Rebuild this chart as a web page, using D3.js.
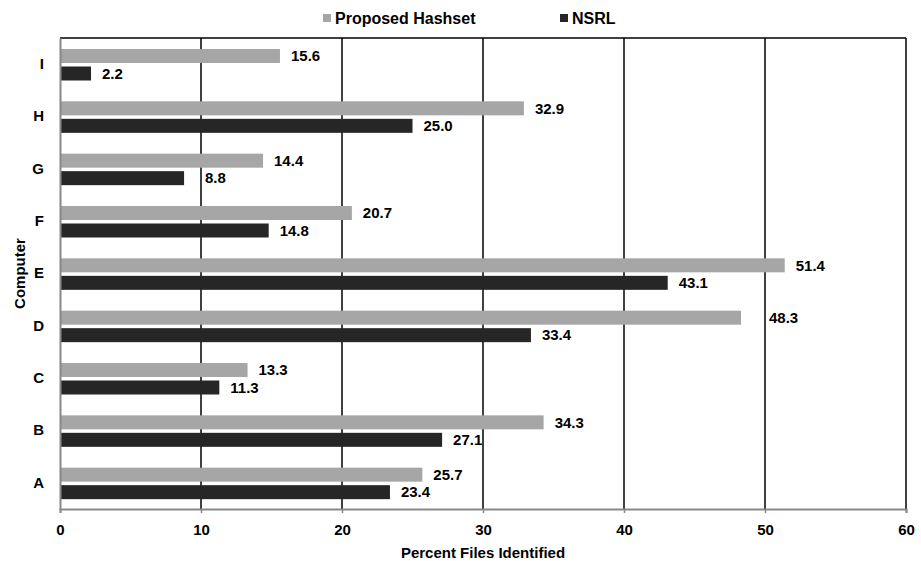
<!DOCTYPE html>
<html>
<head>
<meta charset="utf-8">
<script src="https://cdn.jsdelivr.net/npm/d3@7"></script>
<style>
  body { margin: 0; background: #fff; }
  text { font-family: "Liberation Sans", Arial, sans-serif; font-weight: bold; }
</style>
</head>
<body>
<div id="chart"></div>
<script>
// donnees
var computers = ["A", "B", "C", "D", "E", "F", "G", "H", "I"];
var proposed = [25.7, 34.3, 13.3, 48.3, 51.4, 20.7, 14.4, 32.9, 15.6];
var nsrl = [23.4, 27.1, 11.3, 33.4, 43.1, 14.8, 8.8, 25.0, 2.2];
var seriesNames = ["Proposed Hashset", "NSRL"];
var seriesColors = ["#a6a6a6", "#262626"];
var xTicks = [0, 10, 20, 30, 40, 50, 60];

var W = 921, H = 561;
var margin = { top: 38, right: 15, bottom: 52, left: 60 };
var width = W - margin.left - margin.right,
  height = H - margin.top - margin.bottom;
var fs = 15;

var svg = d3.select("#chart").append("svg")
  .attr("width", W).attr("height", H);

var g = svg.append("g")
  .attr("transform", "translate(" + margin.left + "," + margin.top + ")");

var x = d3.scaleLinear().domain([0, 60]).range([0, width]);

// I en haut, A en bas
var y = d3.scaleBand().domain(computers.slice().reverse()).range([0, height]);

var y1 = d3.scaleBand().domain(seriesNames).range([11, 42.5]).paddingInner(0.2);

// gridlines verticales
g.selectAll(".grid")
  .data(xTicks.slice(1))
  .enter().append("line")
  .attr("x1", d => x(d)).attr("x2", d => x(d))
  .attr("y1", 0).attr("y2", height)
  .attr("stroke", "#000").attr("stroke-width", 1.5);

// bord du haut
g.append("line")
  .attr("x1", 0).attr("x2", width).attr("y1", 0).attr("y2", 0)
  .attr("stroke", "#000").attr("stroke-width", 1.5);

var rows = computers.map((c, i) => ({ c: c, vals: [proposed[i], nsrl[i]] }));

var grp = g.selectAll(".row").data(rows).enter().append("g")
  .attr("transform", d => "translate(0," + y(d.c) + ")");

grp.selectAll("rect")
  .data(d => d.vals.map((v, j) => ({ v: v, s: seriesNames[j], j: j })))
  .enter().append("rect")
  .attr("x", 0)
  .attr("y", d => y1(d.s))
  .attr("width", d => x(d.v))
  .attr("height", y1.bandwidth())
  .attr("fill", d => seriesColors[d.j]);

// position de l'etiquette : on la pousse apres la gridline si elle la croise
function labelX(v) {
  var x0 = x(v) + 11, w = 32;
  xTicks.slice(1).forEach(function (t) {
    var gx = x(t);
    if (gx > x0 + 2 && gx < x0 + w - 4) x0 = gx + 4;
  });
  return x0;
}

grp.selectAll(".lab")
  .data(d => d.vals.map((v, j) => ({ v: v, s: seriesNames[j] })))
  .enter().append("text")
  .attr("x", d => labelX(d.v))
  .attr("y", d => y1(d.s) + y1.bandwidth() / 2)
  .attr("dy", "0.35em")
  .attr("font-size", fs)
  .attr("fill", "#000")
  .text(d => d.v.toFixed(1));

// axe x
var xAxis = g.append("g")
  .attr("transform", "translate(0," + height + ")")
  .call(d3.axisBottom(x).tickValues(xTicks).tickSize(4).tickPadding(11));
xAxis.select(".domain").attr("stroke", "#888").attr("stroke-width", 2);
xAxis.selectAll(".tick line").attr("stroke", "#888").attr("stroke-width", 1.5);
xAxis.selectAll("text").attr("font-size", fs).attr("fill", "#000")
  .style("font-family", "Liberation Sans, Arial, sans-serif").style("font-weight", "bold");

// axe y
var yAxis = g.append("g")
  .call(d3.axisLeft(y).tickSize(0).tickPadding(16));
yAxis.select(".domain").attr("stroke", "#888").attr("stroke-width", 2);
yAxis.selectAll("text").attr("font-size", fs).attr("fill", "#000")
  .style("font-family", "Liberation Sans, Arial, sans-serif").style("font-weight", "bold");

// titres des axes
svg.append("text")
  .attr("x", margin.left + width / 2).attr("y", 558)
  .attr("text-anchor", "middle").attr("font-size", fs)
  .text("Percent Files Identified");

svg.append("text")
  .attr("transform", "translate(25," + (margin.top + height / 2) + ") rotate(-90)")
  .attr("text-anchor", "middle").attr("font-size", fs)
  .text("Computer");

// legende
var legendX = [323, 560];
var leg = svg.selectAll(".leg").data(seriesNames).enter().append("g")
  .attr("transform", (d, i) => "translate(" + legendX[i] + ",14)");
leg.append("rect").attr("width", 8).attr("height", 8)
  .attr("fill", (d, i) => seriesColors[i]);
leg.append("text").attr("x", 12).attr("y", 4).attr("dy", "0.35em")
  .attr("font-size", 16).text(d => d);
</script>
</body>
</html>
